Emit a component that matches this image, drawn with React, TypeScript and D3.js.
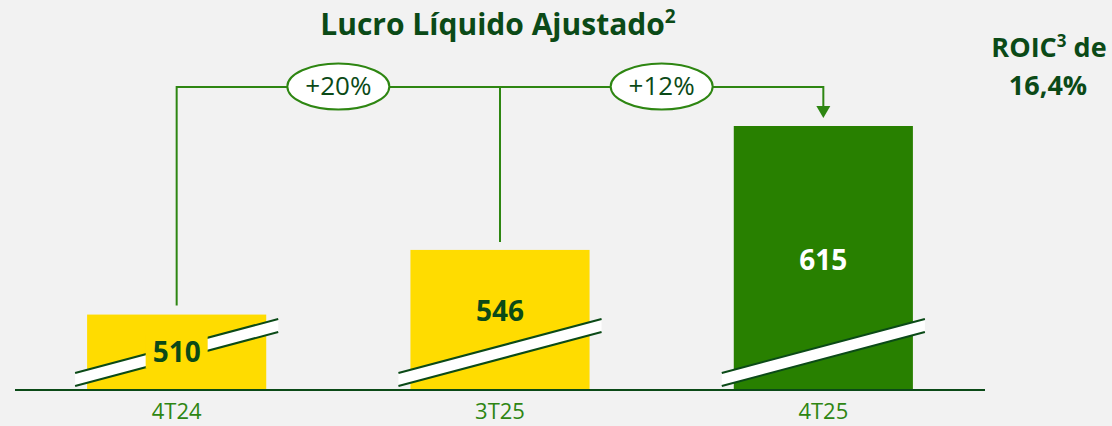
import { useEffect, useRef } from "react"
import * as d3 from "d3"

const categories = ["4T24", "3T25", "4T25"]
const values = [510, 546, 615]
const barColors = ["#FFDC00", "#FFDC00", "#288000"]
const labelColors = ["#0B4A17", "#0B4A17", "#FFFFFF"]
const growth = ["+20%", "+12%"]

const W = 1112
const H = 426
const FONT = "'Open Sans', Lato, sans-serif"
const DARK = "#0B4A17"
const LINE = "#2E8612"

export default function App() {
  const ref = useRef<SVGSVGElement>(null)

  useEffect(() => {
    const svg = d3.select(ref.current)
    svg.selectAll("*").remove()

    svg.append("rect").attr("width", W).attr("height", H).attr("fill", "#F2F2F2")

    const x = d3.scaleBand<string>().domain(categories).range([15, 985])
      .paddingInner(0.446).paddingOuter(0.223)
    // eixo quebrado: a escala não começa em zero
    const y = d3.scaleLinear().domain([468, 615]).range([390, 126])
    const base = 390

    const bars = svg.append("g")
    categories.forEach((c, i) => {
      const x0 = x(c)!
      const bw = x.bandwidth()
      bars.append("rect")
        .attr("x", x0).attr("y", y(values[i]))
        .attr("width", bw).attr("height", base - y(values[i]))
        .attr("fill", barColors[i])

      // faixa de quebra
      const xl = x0 - 12, xr = x0 + bw + 12
      const brk = bars.append("g")
      brk.append("path")
        .attr("d", `M${xl},373 L${xr},319 L${xr},332 L${xl},386 Z`)
        .attr("fill", "#FFFFFF")
      brk.append("path")
        .attr("d", `M${xl},373 L${xr},319 M${xl},386 L${xr},332`)
        .attr("stroke", DARK).attr("stroke-width", 2).attr("fill", "none")
    })

    // rótulos de valor
    categories.forEach((c, i) => {
      const cx = x(c)! + x.bandwidth() / 2
      const h = base - y(values[i])
      const ty = h < 100 ? 362 : i === 1 ? 321 : y(values[i]) + 144
      if (h < 100) {
        svg.append("rect")
          .attr("x", cx - 31).attr("y", ty - 27).attr("width", 62).attr("height", 33)
          .attr("fill", barColors[i])
      }
      svg.append("text")
        .attr("x", cx).attr("y", ty)
        .attr("text-anchor", "middle")
        .attr("font-family", FONT).attr("font-weight", 700).attr("font-size", 28)
        .attr("fill", labelColors[i])
        .text(values[i])
    })

    // eixo
    svg.append("line")
      .attr("x1", 15).attr("x2", 985).attr("y1", base).attr("y2", base)
      .attr("stroke", DARK).attr("stroke-width", 2)

    svg.append("g").selectAll("text").data(categories).join("text")
      .attr("x", (d) => x(d)! + x.bandwidth() / 2)
      .attr("y", 419)
      .attr("text-anchor", "middle")
      .attr("font-family", FONT).attr("font-size", 22)
      .attr("fill", LINE)
      .text((d) => d)

    // conectores de crescimento
    const lineY = 87
    const cxs = categories.map((c) => x(c)! + x.bandwidth() / 2)
    const conn = svg.append("g").attr("stroke", LINE).attr("stroke-width", 2).attr("fill", "none")
    conn.append("path").attr("d", `M${cxs[0]},${y(values[0]) - 9} V${lineY} H${cxs[2]} V${y(values[2]) - 18}`)
    conn.append("path").attr("d", `M${cxs[1]},${y(values[1]) - 8} V${lineY}`)
    svg.append("path")
      .attr("d", `M${cxs[2] - 7},${y(values[2]) - 20} L${cxs[2] + 7},${y(values[2]) - 20} L${cxs[2]},${y(values[2]) - 8} Z`)
      .attr("fill", LINE)

    growth.forEach((g, i) => {
      const ex = (cxs[i] + cxs[i + 1]) / 2
      svg.append("ellipse")
        .attr("cx", ex).attr("cy", lineY - 0.5).attr("rx", 51).attr("ry", 23)
        .attr("fill", "#FFFFFF").attr("stroke", LINE).attr("stroke-width", 2)
      svg.append("text")
        .attr("x", ex).attr("y", lineY + 8)
        .attr("text-anchor", "middle")
        .attr("font-family", FONT).attr("font-size", 26)
        .attr("fill", DARK)
        .text(g)
    })

    // título
    const title = svg.append("text")
      .attr("x", 498).attr("y", 35)
      .attr("text-anchor", "middle")
      .attr("font-family", FONT).attr("font-weight", 700).attr("font-size", 30)
      .attr("fill", DARK)
    title.append("tspan").text("Lucro Líquido Ajustado")
    title.append("tspan").attr("font-size", 19).attr("dy", -12).text("2")

    const roic = svg.append("text")
      .attr("text-anchor", "middle")
      .attr("font-family", FONT).attr("font-weight", 700).attr("font-size", 27)
      .attr("fill", DARK)
    const l1 = roic.append("tspan").attr("x", 1049).attr("y", 57)
    l1.append("tspan").text("ROIC")
    l1.append("tspan").attr("font-size", 17).attr("dy", -10).text("3")
    l1.append("tspan").attr("dy", 10).text(" de")
    roic.append("tspan").attr("x", 1048).attr("y", 95).text("16,4%")
  }, [])

  return (
    <svg ref={ref} width={W} height={H} style={{ display: "block", position: "absolute", left: 0, top: 0 }} />
  )
}
